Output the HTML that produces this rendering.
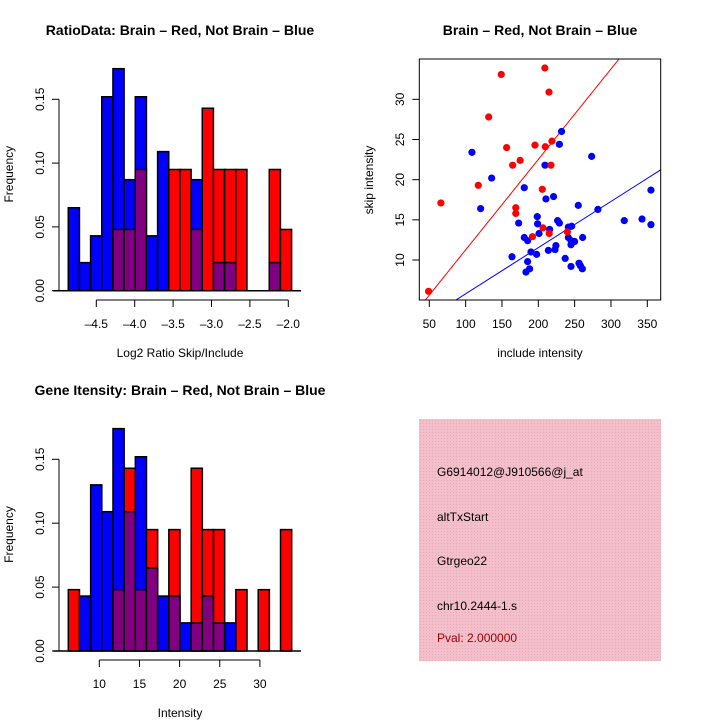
<!DOCTYPE html>
<html><head><meta charset="utf-8"><style>
body{margin:0;background:#fff}
svg{display:block;font-family:"Liberation Sans",sans-serif}
</style></head><body>
<svg id="c" width="720" height="720" viewBox="0 0 720 720">
<defs>
<pattern id="hatch" width="3" height="3" patternUnits="userSpaceOnUse">
<rect width="3" height="3" fill="#f2bfcb"/><rect width="1" height="1" fill="#e9a9b8"/>
</pattern>
</defs>
<text x="180" y="35" text-anchor="middle" font-size="14" font-weight="bold">RatioData: Brain – Red, Not Brain – Blue</text>
<text x="540" y="35" text-anchor="middle" font-size="14" font-weight="bold">Brain – Red, Not Brain – Blue</text>
<text x="180" y="395" text-anchor="middle" font-size="14" font-weight="bold">Gene Itensity: Brain – Red, Not Brain – Blue</text>
<g id="p1"></g><g id="p2"></g><g id="p3"></g>
<g>
<rect x="419" y="419" width="242" height="242" fill="url(#hatch)"/>
<text x="437" y="476" font-size="12">G6914012@J910566@j_at</text>
<text x="437" y="521" font-size="12">altTxStart</text>
<text x="437" y="565" font-size="12">Gtrgeo22</text>
<text x="437" y="610" font-size="12">chr10.2444-1.s</text>
<text x="437" y="642" font-size="12" fill="#a00000">Pval: 2.000000</text>
</g>
</svg>
<script>
// Ratio histogram data
const ratioBlue=[0.065,0.022,0.043,0.152,0.174,0.087,0.152,0.043,0.109,0,0,0.087,0,0.022,0.022,0,0,0,0.022,0];
const ratioRed=[0,0,0,0,0.048,0.048,0.095,0,0,0.095,0.095,0.048,0.143,0.095,0.095,0.095,0,0,0.095,0.048];
const ratioTicks=["-4.5","-4.0","-3.5","-3.0","-2.5","-2.0"];
const freqTicks=[0,0.05,0.10,0.15];
// Intensity histogram data
const intBlue=[0,0.043,0.130,0.109,0.174,0.109,0.152,0.065,0.043,0.043,0.022,0.022,0.043,0.022,0.022,0,0,0,0,0];
const intRed=[0.048,0,0,0,0.048,0.143,0.048,0.095,0,0.095,0,0.143,0.095,0.095,0,0.048,0,0.048,0,0.095];
const intTicks=["10","15","20","25","30"];
// Scatter data
const redX=[49,66,117.4,131.7,149,156.4,164.7,175,169,169,192,195.4,205.5,206.4,209,209.6,214.7,215,218.8,217.4,240];
const redY=[6.1,17.1,19.3,27.8,33.1,24.0,21.8,22.4,16.5,15.8,12.9,24.3,18.8,14.0,33.9,24.1,30.9,13.3,24.8,21.8,13.5];
const blueX=[108.7,120.6,135.8,163.8,173,180.7,180.7,185.3,185.3,183,188,189.9,197.7,198.6,199,201,209.2,210.5,215.6,213.8,221,223,224.2,226.6,229,229,232,237,241.3,241.3,245.9,245,245,245,250,255,256,257.8,261,260.6,273.4,282,318.3,342.7,355,355];
const blueY=[23.4,16.4,20.2,10.4,14.6,19.0,12.8,12.4,9.8,8.5,8.9,11.0,10.7,15.4,14.5,13.3,21.8,17.6,13.8,11.2,17.9,11.3,11.8,14.9,14.6,24.4,26.0,10.2,14.1,12.8,14.2,11.9,12.4,9.2,12.3,16.8,9.6,9.3,12.8,8.9,22.9,16.3,14.9,15.1,18.7,14.4];
const redFit=[0,0.1126];
const blueFit=[0.04,0.0575];
const scXTicks=[50,100,150,200,250,300,350];
const scYTicks=[10,15,20,25,30];

const NS="http://www.w3.org/2000/svg";
function mk(parent,tag,attrs,text){const e=document.createElementNS(NS,tag);for(const k in attrs)e.setAttribute(k,attrs[k]);if(text!==undefined)e.textContent=text;parent.appendChild(e);return e;}

function hist(gid,blue,red,x0,step,xs,yZero,ys,ticks,xlab,tickY,axisPrefix){
  const g=document.getElementById(gid);
  const X=v=>xs.px+(v-xs.v)*xs.k;
  const Y=v=>yZero-v*ys;
  for(let i=0;i<blue.length;i++){
    const l=X(x0+i*step), r=X(x0+(i+1)*step), w=r-l;
    const b=blue[i], rd=red[i], hi=Math.max(b,rd), lo=Math.min(b,rd);
    if(hi<=0) continue;
    const main=mk(g,'rect',{x:l,y:Y(hi),width:w,height:hi*ys,fill:b>=rd?'#0000ff':'#ff0000',stroke:'#000','stroke-width':1.5});
    
    
    if(lo>0){
      const ov=mk(g,'rect',{x:l,y:Y(lo),width:w,height:lo*ys,fill:'#800080',stroke:'#000','stroke-width':1.5});
      
      
    }
  }
  const ya=mk(g,'line',{x1:59,x2:59,y1:Y(0),y2:Y(freqTicks[freqTicks.length-1]),stroke:'#000'});
  
  
  freqTicks.forEach(t=>{
    mk(g,'line',{x1:52,x2:59,y1:Y(t),y2:Y(t),stroke:'#000'});
    const tl=mk(g,'text',{x:44,y:Y(t),'font-size':12,'text-anchor':'middle',transform:`rotate(-90 44 ${Y(t)})`},t.toFixed(2));
    
    
  });
  const tv=ticks.map(Number);
  const xa=mk(g,'line',{x1:X(tv[0]),x2:X(tv[tv.length-1]),y1:tickY,y2:tickY,stroke:'#000'});
  
  
  ticks.forEach(s=>{
    const t=Number(s);
    mk(g,'line',{x1:X(t),x2:X(t),y1:tickY,y2:tickY+7,stroke:'#000'});
    const tl=mk(g,'text',{x:X(t),y:tickY+28,'font-size':12,'text-anchor':'middle'},s.replace('-','–'));
    
    
  });
  mk(g,'line',{x1:X(x0)-15,x2:301,y1:yZero,y2:yZero,stroke:'#000','stroke-width':1.5});
  const xl=mk(g,'text',{x:180,y:tickY+57,'font-size':12,'text-anchor':'middle'},xlab);
  
  
  const cy=(yZero+(yZero-241))/2+4;
  const yl=mk(g,'text',{x:13,y:cy,'font-size':12,'text-anchor':'middle',transform:`rotate(-90 13 ${cy})`},'Frequency');
  
  
}
hist('p1',ratioBlue,ratioRed,-4.865,0.1454,{px:96.3,v:-4.5,k:76.8},290.7,1276,ratioTicks,'Log2 Ratio Skip/Include',300,'ratio');
hist('p3',intBlue,intRed,6.14,1.391,{px:99.3,v:10,k:8.03},651,1278,intTicks,'Intensity',660,'intensity');

(function(){
  const g=document.getElementById('p2');
  const L=419.3,R=660.7,T=59,B=300;
  const X=v=>429.3+(v-50)*0.7267;
  const Y=v=>260-(v-10)*8.033;
  const clip=mk(g,'clipPath',{id:'scClip'});
  mk(clip,'rect',{x:L,y:T,width:R-L,height:B-T});
  const fits=[[redFit,'#ff0000','red-fit-line'],[blueFit,'#0000ff','blue-fit-line']];
  fits.forEach(([f,c,n])=>{
    const x1=20,x2=400;
    const ln=mk(g,'line',{x1:X(x1),y1:Y(f[0]+f[1]*x1),x2:X(x2),y2:Y(f[0]+f[1]*x2),stroke:c,'clip-path':'url(#scClip)'});
    
    
  });
  blueX.forEach((x,i)=>{
    const p=mk(g,'circle',{cx:X(x),cy:Y(blueY[i]),r:3.6,fill:'#0000ff'});
    
    
  });
  redX.forEach((x,i)=>{
    const p=mk(g,'circle',{cx:X(x),cy:Y(redY[i]),r:3.6,fill:'#ff0000'});
    
    
  });
  const box=mk(g,'rect',{x:L,y:T,width:R-L,height:B-T,fill:'none',stroke:'#000'});
  
  
  scXTicks.forEach(t=>{
    mk(g,'line',{x1:X(t),x2:X(t),y1:B,y2:B+7,stroke:'#000'});
    const tl=mk(g,'text',{x:X(t),y:B+28,'font-size':12,'text-anchor':'middle'},String(t));
    
    
  });
  scYTicks.forEach(t=>{
    mk(g,'line',{x1:L-7,x2:L,y1:Y(t),y2:Y(t),stroke:'#000'});
    const tl=mk(g,'text',{x:404,y:Y(t),'font-size':12,'text-anchor':'middle',transform:`rotate(-90 404 ${Y(t)})`},String(t));
    
    
  });
  const xl=mk(g,'text',{x:540,y:357,'font-size':12,'text-anchor':'middle'},'include intensity');
  
  
  const yl=mk(g,'text',{x:373,y:180,'font-size':12,'text-anchor':'middle',transform:'rotate(-90 373 180)'},'skip intensity');
  
  
})();
</script>
</body></html>
